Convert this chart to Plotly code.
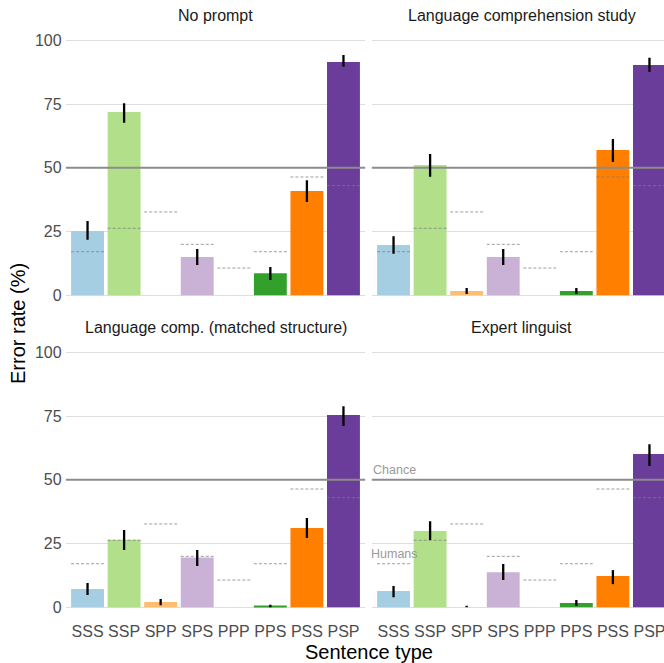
import plotly.graph_objects as go

W, H = 664, 663

categories = ["SSS", "SSP", "SPP", "SPS", "PPP", "PPS", "PSS", "PSP"]
bar_colors = ["#A6CEE3", "#B2DF8A", "#FDBF6F", "#CAB2D6", "#1F78B4", "#33A02C", "#FF7F00", "#6A3D9A"]

panel_titles = ["No prompt", "Language comprehension study",
                "Language comp. (matched structure)", "Expert linguist"]

no_prompt = [25.2, 71.9, 0.0, 15.0, 0.0, 8.7, 40.9, 91.5]
no_prompt_lo = [21.8, 67.7, 0.0, 11.9, 0.0, 6.0, 36.6, 89.6]
no_prompt_hi = [29.1, 75.3, 0.0, 18.2, 0.0, 11.1, 45.1, 94.2]

lang_comp = [19.7, 51.1, 1.7, 15.0, 0.0, 1.7, 57.0, 90.3]
lang_comp_lo = [16.3, 46.5, 0.5, 11.9, 0.0, 0.5, 52.3, 87.7]
lang_comp_hi = [23.2, 55.4, 2.9, 18.2, 0.0, 2.9, 61.3, 93.1]

matched = [7.2, 26.5, 2.1, 19.5, 0.0, 0.5, 31.1, 75.4]
matched_lo = [4.8, 22.5, 0.8, 16.2, 0.0, 0.0, 27.2, 71.1]
matched_hi = [9.5, 30.3, 3.3, 22.5, 0.0, 1.0, 35.0, 78.9]

expert = [6.4, 29.9, 0.0, 13.8, 0.0, 1.7, 12.3, 60.1]
expert_lo = [4.0, 26.4, 0.0, 10.7, 0.0, 0.5, 9.1, 55.4]
expert_hi = [8.4, 33.8, 0.6, 17.0, 0.0, 2.9, 14.6, 64.0]

humans = [17.1, 26.3, 32.7, 20.0, 10.7, 17.1, 46.4, 43.0]
chance = 50

y_ticks = [0, 25, 50, 75, 100]

panels = [
    (no_prompt, no_prompt_lo, no_prompt_hi),
    (lang_comp, lang_comp_lo, lang_comp_hi),
    (matched, matched_lo, matched_hi),
    (expert, expert_lo, expert_hi),
]

BAR_W = 0.9
xs = list(range(1, len(categories) + 1))

# layout geometry (pixels)
left_px = (65.6, 365.4)
right_px = (371.6, 664.0)
unit_px = (left_px[1] - left_px[0]) / 8.2
xr_left = [0.4, 8.6]
xr_right = [0.4, 0.4 + (right_px[1] - right_px[0]) / unit_px]
top_py = (27.5, 308.1)
bot_py = (339.6, 620.1)
yr = [-5, 105]

FONT = "Liberation Sans, Arial, sans-serif"

fig = go.Figure()

axis_ids = ["", "2", "3", "4"]
for k, (vals, lo, hi) in enumerate(panels):
    ax = axis_ids[k]
    xa, ya = "x" + ax, "y" + ax
    xr = xr_left if k % 2 == 0 else xr_right
    fig.add_trace(go.Bar(x=xs, y=vals, width=BAR_W, marker=dict(color=bar_colors, line=dict(width=0)),
                         xaxis=xa, yaxis=ya, showlegend=False, hoverinfo="skip"))
    fig.add_trace(go.Scatter(x=xr, y=[chance, chance], mode="lines",
                             line=dict(color="#8C8C8C", width=2),
                             xaxis=xa, yaxis=ya, showlegend=False, hoverinfo="skip"))
    hx, hy = [], []
    for xi, h in zip(xs, humans):
        hx += [xi - BAR_W / 2, xi + BAR_W / 2, None]
        hy += [h, h, None]
    fig.add_trace(go.Scatter(x=hx, y=hy, mode="lines",
                             line=dict(color="rgba(125,125,125,0.75)", width=1, dash="3px,2px"),
                             xaxis=xa, yaxis=ya, showlegend=False, hoverinfo="skip"))
    fig.add_trace(go.Scatter(x=xs, y=vals, mode="markers", marker=dict(size=1, opacity=0),
                             error_y=dict(type="data", symmetric=False,
                                          array=[h - v for h, v in zip(hi, vals)],
                                          arrayminus=[v - l for v, l in zip(vals, lo)],
                                          color="black", thickness=2.3, width=0),
                             xaxis=xa, yaxis=ya, showlegend=False, hoverinfo="skip"))


def xd(px):
    return [px[0] / W, px[1] / W]


def yd(py):
    return [1 - py[1] / H, 1 - py[0] / H]


tickfont = dict(family=FONT, size=16, color="#4D4D4D")
common_x = dict(tickvals=xs, ticktext=categories, showgrid=False, zeroline=False,
                showline=False, ticks="", tickfont=tickfont, ticklabeloverflow="allow")
common_y = dict(range=yr, tickvals=y_ticks, showgrid=True, gridcolor="#DEDEDE", gridwidth=1,
                zeroline=False, showline=False, ticks="", tickfont=tickfont,
                ticklabelstandoff=3)

fig.update_layout(
    width=W, height=H, autosize=False,
    margin=dict(l=0, r=0, t=0, b=0),
    paper_bgcolor="white", plot_bgcolor="white",
    font=dict(family=FONT),
    xaxis=dict(common_x, domain=xd(left_px), range=xr_left, anchor="y", showticklabels=False),
    yaxis=dict(common_y, domain=yd(top_py), anchor="x", showticklabels=True),
    xaxis2=dict(common_x, domain=xd(right_px), range=xr_right, anchor="y2", showticklabels=False),
    yaxis2=dict(common_y, domain=yd(top_py), anchor="x2", showticklabels=False),
    xaxis3=dict(common_x, domain=xd(left_px), range=xr_left, anchor="y3", showticklabels=True),
    yaxis3=dict(common_y, domain=yd(bot_py), anchor="x3", showticklabels=True),
    xaxis4=dict(common_x, domain=xd(right_px), range=xr_right, anchor="y4", showticklabels=True),
    yaxis4=dict(common_y, domain=yd(bot_py), anchor="x4", showticklabels=False),
)

strip_font = dict(family=FONT, size=16, color="#1A1A1A")
left_center = (left_px[0] + left_px[1]) / 2
right_center = right_px[0] + 8.2 * unit_px / 2
strip_pos = [(left_center, 15), (right_center, 15), (left_center, 327), (right_center, 327)]
for title, (cx, cy) in zip(panel_titles, strip_pos):
    fig.add_annotation(text=title, x=cx / W, y=1 - cy / H, xref="paper", yref="paper",
                       showarrow=False, font=strip_font, xanchor="center", yanchor="middle")

title_font = dict(family=FONT, size=20, color="black")
fig.add_annotation(text="Sentence type", x=(left_px[0] + right_px[0] + 8.2 * unit_px) / 2 / W,
                   y=1 - 652 / H, xref="paper", yref="paper", showarrow=False,
                   font=title_font, xanchor="center", yanchor="middle")
fig.add_annotation(text="Error rate (%)", x=18 / W, y=1 - 324 / H, xref="paper", yref="paper",
                   showarrow=False, font=title_font, textangle=-90,
                   xanchor="center", yanchor="middle")

note_font = dict(family=FONT, size=12.5, color="#9A9A9A")
fig.add_annotation(text="Chance", x=0.4, y=53.8, xref="x4", yref="y4", showarrow=False,
                   font=note_font, xanchor="left", yanchor="middle", xshift=-1)
fig.add_annotation(text="Humans", x=0.4, y=20.8, xref="x4", yref="y4", showarrow=False,
                   font=note_font, xanchor="left", yanchor="middle", xshift=-3)

fig.write_html("out.html", config={"displayModeBar": False},
               post_script="document.body.style.margin='0px';document.body.style.overflow='hidden';")
